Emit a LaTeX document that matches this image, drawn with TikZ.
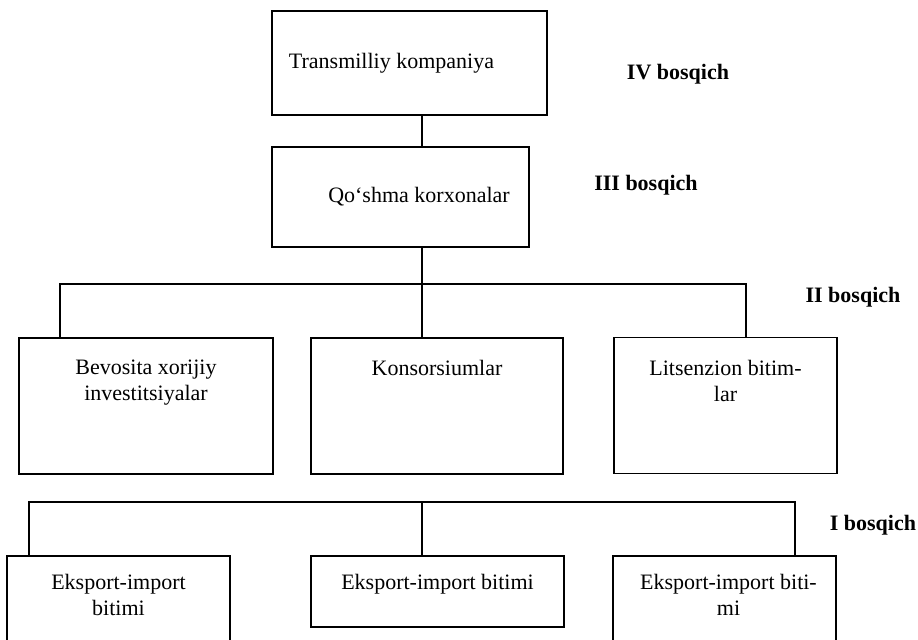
\documentclass[tikz,border=0pt]{standalone}
\usepackage{fontspec}
\setmainfont{Liberation Serif}
\usetikzlibrary{positioning}
\begin{document}
\begin{tikzpicture}[x=0.5pt,y=-0.5pt,
  stagebox/.style={draw=black,line width=0.7pt,inner sep=0pt,outer sep=0pt},
  boxtext/.style={align=center,inner sep=0pt,font=\fontsize{11}{13}\selectfont},
  stagelabel/.style={inner sep=0pt,font=\fontsize{11}{13}\selectfont\bfseries},
  link/.style={black,line width=0.7pt}]
  \useasboundingbox (0,0) rectangle (918,639);
  \clip (0,0) rectangle (918,639);
  % stage IV and III
  \node[stagebox,minimum width=137.5pt,minimum height=52pt] (trans) at (409.5,63) {};
  \node[boxtext] (transtxt) at (391.5,63) {Transmilliy kompaniya};
  \node[stagebox,minimum width=128.5pt,minimum height=50pt] (qoshma) at (400.5,197) {};
  \node[boxtext] (qoshmatxt) at (419,197) {Qo‘shma korxonalar};
  % stage II
  \node[stagebox,minimum width=127pt,minimum height=68pt] (bevosita) at (146,406) {};
  \node[stagebox,minimum width=126pt,minimum height=68pt] (konsors) at (437,406) {};
  \node[stagebox,minimum width=111.5pt,minimum height=68pt] (litsenz) at (725.5,405.5) {};
  \node[boxtext,below=11pt of bevosita.north] (bevositatxt) {Bevosita xorijiy\\investitsiyalar};
  \node[boxtext,below=11pt of konsors.north] (konsorstxt) {Konsorsiumlar};
  \node[boxtext,below=11pt of litsenz.north] (litsenztxt) {Litsenzion bitim-\\lar};
  % stage I, lower edges run off the page
  \node[stagebox,minimum width=111.5pt,minimum height=62pt] (eksA) at (118.5,618) {};
  \node[stagebox,minimum width=126.5pt,minimum height=35.5pt] (eksB) at (437.5,591.5) {};
  \node[stagebox,minimum width=111.5pt,minimum height=62pt] (eksC) at (724.5,618) {};
  \node[boxtext,below=9pt of eksA.north] (eksAtxt) {Eksport-import\\bitimi};
  \node[boxtext,below=9pt of eksB.north] (eksBtxt) {Eksport-import bitimi};
  \node[boxtext,below=9pt of eksC.north,xshift=2pt] (eksCtxt) {Eksport-import biti-\\mi};
  % connectors
  \coordinate (spine) at (422,0);
  \coordinate (busIIl) at (60,284);
  \coordinate (busIIr) at (746,284);
  \coordinate (busIl) at (29,502);
  \coordinate (busIr) at (795,502);
  \draw[link] (trans.south -| spine) -- (qoshma.north -| spine);
  \draw[link] (qoshma.south -| spine) -- (konsors.north -| spine);
  \draw[link] (busIIl |- bevosita.north) -- (busIIl) -- (busIIr) -- (busIIr |- litsenz.north);
  \draw[link] (busIl |- eksA.north) -- (busIl) -- (busIr) -- (busIr |- eksC.north);
  \draw[link] (busIl -| spine) -- (eksB.north -| spine);
  % stage labels
  \node[stagelabel] (stageIV) at (678,74) {IV bosqich};
  \node[stagelabel] (stageIII) at (646,185) {III bosqich};
  \node[stagelabel] (stageII) at (853,297) {II bosqich};
  \node[stagelabel] (stageI) at (873,525) {I bosqich};
\end{tikzpicture}
\end{document}
